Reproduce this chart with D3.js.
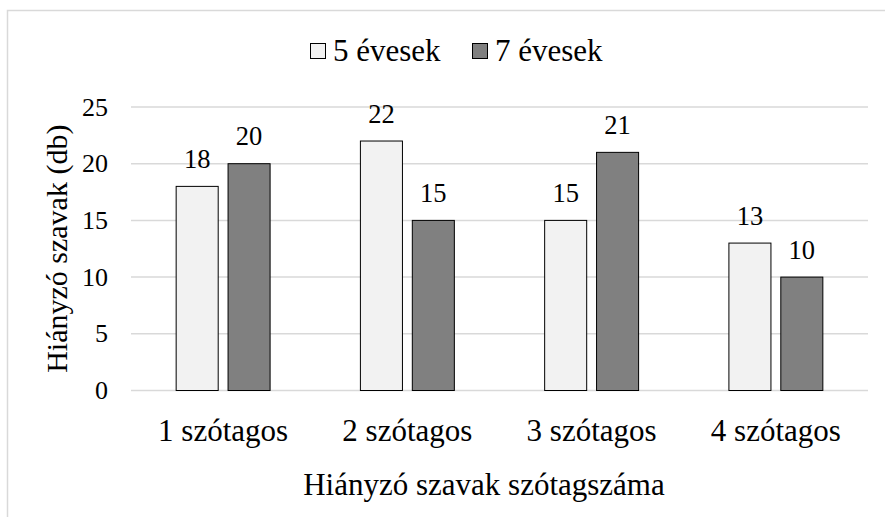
<!DOCTYPE html>
<html>
<head>
<meta charset="utf-8">
<script src="https://cdn.jsdelivr.net/npm/d3@7"></script>
<style>
  body { margin: 0; background: #fff; }
</style>
</head>
<body>
<svg id="chart" width="885" height="517" font-family="'Liberation Serif', 'Times New Roman', serif"></svg>
<script>
const categories = ["1 szótagos", "2 szótagos", "3 szótagos", "4 szótagos"];
const seriesNames = ["5 évesek", "7 évesek"];
const values5 = [18, 22, 15, 13];
const values7 = [20, 15, 21, 10];
const yTicks = [0, 5, 10, 15, 20, 25];
const colors = ["#f2f2f2", "#808080"];

const serif = "'Liberation Serif', 'Times New Roman', serif";
const svg = d3.select('#chart');

const plot = { left: 131, right: 868, top: 107, bottom: 390.5 };

// chart border (only top/left visible in the crop)
svg.append('rect')
  .attr('x', 7.5).attr('y', 10.5)
  .attr('width', 1000).attr('height', 1000)
  .style('fill', 'none').style('stroke', '#d9d9d9').style('stroke-width', 1.5);

const x = d3.scaleBand().domain(categories).range([plot.left, plot.right]);
const xSub = d3.scaleBand().domain(seriesNames)
  .range([0, x.bandwidth()]).paddingInner(0.19).paddingOuter(0.87);
const y = d3.scaleLinear().domain([0, 25]).range([plot.bottom, plot.top]);

// gridlines
svg.append('g').selectAll('line')
  .data(yTicks)
  .enter().append('line')
  .attr('x1', plot.left).attr('x2', plot.right)
  .attr('y1', d => y(d)).attr('y2', d => y(d))
  .style('stroke', '#d9d9d9').style('stroke-width', 1.5);

// y tick labels
svg.append('g').selectAll('text')
  .data(yTicks)
  .enter().append('text')
  .attr('x', 108).attr('y', d => y(d) + 8.5)
  .style('text-anchor', 'end').style('font-size', '26px')
  .text(d => d);

const rows = categories.map((c, i) => ({ cat: c, vals: [values5[i], values7[i]] }));

const groups = svg.append('g').selectAll('g')
  .data(rows)
  .enter().append('g')
  .attr('transform', d => `translate(${x(d.cat)},0)`);

groups.selectAll('rect')
  .data(d => d.vals.map((v, j) => ({ name: seriesNames[j], v, j })))
  .enter().append('rect')
  .attr('x', d => xSub(d.name))
  .attr('y', d => y(d.v))
  .attr('width', xSub.bandwidth())
  .attr('height', d => y(0) - y(d.v))
  .style('fill', d => colors[d.j])
  .style('stroke', '#000').style('stroke-width', 1);

groups.selectAll('text')
  .data(d => d.vals.map((v, j) => ({ name: seriesNames[j], v, j })))
  .enter().append('text')
  .attr('x', d => xSub(d.name) + xSub.bandwidth() / 2)
  .attr('y', d => y(d.v) - 18.5)
  .style('text-anchor', 'middle').style('font-size', '26.5px')
  .text(d => d.v);

// category labels
svg.append('g').selectAll('text')
  .data(categories)
  .enter().append('text')
  .attr('x', d => x(d) + x.bandwidth() / 2)
  .attr('y', 441)
  .style('text-anchor', 'middle').style('font-size', '31px')
  .text(d => d);

// axis titles
svg.append('text')
  .attr('x', 484).attr('y', 495)
  .style('text-anchor', 'middle').style('font-size', '31px')
  .text('Hiányzó szavak szótagszáma');

svg.append('text')
  .attr('transform', `translate(67,${(plot.top + plot.bottom) / 2}) rotate(-90)`)
  .style('text-anchor', 'middle').style('font-size', '30px')
  .text('Hiányzó szavak (db)');

// legend
const legendX = [310, 472];
const legend = svg.append('g').selectAll('g')
  .data(seriesNames)
  .enter().append('g')
  .attr('transform', (d, i) => `translate(${legendX[i]},0)`);

legend.append('rect')
  .attr('x', 0.5).attr('y', 43.5)
  .attr('width', 15).attr('height', 15)
  .style('fill', (d, i) => colors[i])
  .style('stroke', '#000').style('stroke-width', 1);

legend.append('text')
  .attr('x', 23).attr('y', 60.5)
  .style('font-size', '31px')
  .text(d => d);

svg.selectAll('text').style('font-family', serif).style('fill', '#000');
</script>
</body>
</html>
